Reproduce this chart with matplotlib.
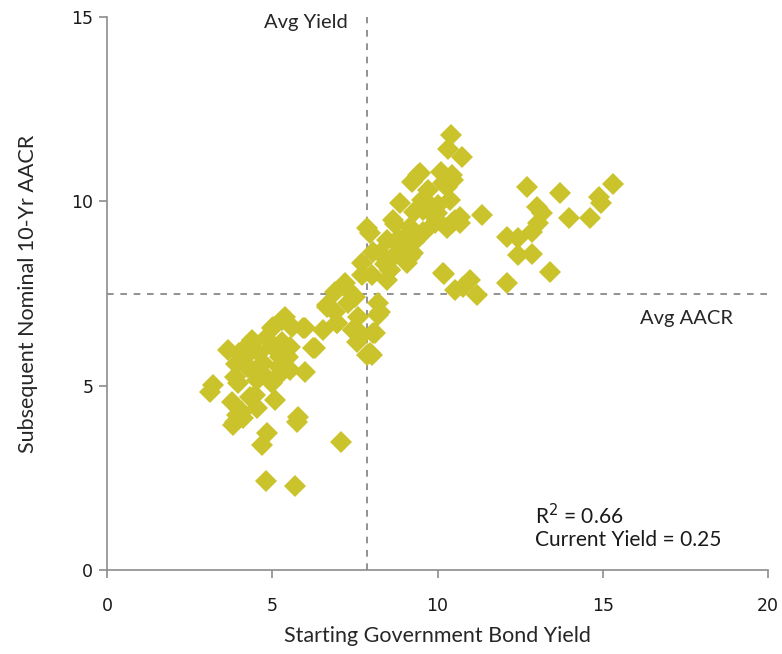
import matplotlib
matplotlib.use("Agg")
import matplotlib.pyplot as plt

# starting government bond yield (x) vs subsequent nominal 10-yr AACR (y)
yields = [
    3.21, 3.12, 3.66, 3.78, 3.87, 3.81, 3.93, 4.11, 3.87, 3.96, 4.24, 4.33, 4.39, 4.18,
    4.33, 4.72, 4.54, 4.54, 5.08, 5.14, 4.99, 4.48, 4.69, 4.84, 4.81, 5.69, 5.75, 5.78,
    7.08, 4.08, 4.69,
    5.39, 5.30, 5.02, 4.99, 5.93, 6.96, 6.66, 7.44, 6.23, 7.87, 5.02, 5.54, 5.23, 5.48,
    5.54, 5.99,
    7.96, 8.77, 8.87, 8.26, 7.72, 8.56, 8.02, 8.47, 7.20, 6.90, 7.50, 7.29, 8.20, 6.66,
    8.26, 7.59, 6.96, 6.54, 5.99, 7.44, 7.66, 8.11, 6.29, 8.02, 7.56,
    7.87, 8.05, 8.87, 9.17, 9.56, 8.87, 9.98, 10.44, 10.68, 8.20, 8.05, 7.96, 7.56,
    10.41, 10.32, 10.74, 9.47, 9.23, 10.44, 10.17, 9.53, 9.56, 9.86, 9.92, 10.38, 10.53,
    10.68, 11.35, 8.65, 9.17, 9.56, 8.47, 8.87, 9.26, 8.56, 9.08, 10.17, 10.98, 8.56,
    9.41, 9.62, 10.29, 10.47, 9.98, 10.29,
    12.71, 13.71, 15.31, 14.89, 14.95, 14.61, 13.98, 13.01, 13.16, 13.04, 12.86, 12.10,
    12.44, 12.44, 12.86, 13.40, 12.10, 10.20, 10.53, 10.77, 11.20,
    4.00, 4.40, 5.30, 5.60, 4.80, 3.90, 4.60, 5.20,
    6.90, 7.30, 7.70, 8.40, 9.00, 9.30, 9.70, 10.00, 9.30, 8.70, 10.10,
]
aacr = [
    5.02, 4.83, 5.97, 4.56, 4.01, 3.93, 4.20, 4.12, 5.23, 5.07, 5.51, 4.69, 6.24, 5.78,
    6.16, 5.61, 5.15, 4.39, 4.61, 5.23, 5.07, 4.75, 3.39, 3.72, 2.41, 2.28, 4.01, 4.15,
    3.47, 4.29, 5.34,
    6.86, 6.78, 6.59, 6.56, 6.56, 6.70, 7.13, 6.51, 6.02, 5.83, 6.05, 6.05, 5.78, 5.78,
    5.42, 5.37,
    9.14, 8.95, 8.68, 8.60, 8.33, 8.14, 8.00, 7.87, 7.78, 7.54, 7.40, 7.24, 7.24, 7.19,
    7.00, 6.86, 6.70, 6.51, 6.56, 6.51, 6.32, 6.43, 6.02, 5.83, 6.18,
    9.28, 8.62, 8.95, 8.49, 9.14, 9.95, 9.68, 9.41, 9.57, 6.92, 6.43, 5.89, 6.51,
    11.80, 11.42, 11.20, 10.77, 10.52, 10.71, 10.50, 10.04, 9.76, 9.63, 9.41, 10.04, 9.49,
    9.41, 9.63, 9.49, 9.30, 9.17, 8.95, 8.76, 8.60, 8.41, 8.33, 8.06, 7.87, 8.14,
    10.71, 10.04, 10.39, 10.58, 9.49, 9.28,
    10.39, 10.23, 10.47, 10.12, 9.95, 9.55, 9.55, 9.85, 9.68, 9.41, 9.17, 9.03,
    9.00, 8.54, 8.57, 8.08, 7.78, 8.03, 7.59, 7.68, 7.46,
    5.90, 5.40, 6.20, 6.60, 6.30, 5.60, 5.90, 5.50,
    7.00, 7.60, 8.00, 8.30, 9.00, 9.70, 10.30, 9.90, 8.90, 9.40, 10.80,
]

avg_yield = 7.87
avg_aacr = 7.49
r2 = 0.66
current_yield = 0.25

xticks = [0, 5, 10, 15, 20]
yticks = [0, 5, 10, 15]

# 字体
label_font = "Lato"
dot_color = "#CAC32B"
axis_color = "#8C8C8C"

fig = plt.figure(figsize=(7.82, 6.54), dpi=100)
ax = fig.add_axes([0.137, 0.128, 0.845, 0.846])

ax.plot(yields, aacr, linestyle="none", marker="D", markersize=11,
        color=dot_color, markeredgewidth=0, zorder=3)

# 平均线
ax.axvline(avg_yield, color="#7F7F7F", linestyle=(0, (4, 4)), linewidth=1.2, zorder=2)
ax.axhline(avg_aacr, color="#7F7F7F", linestyle=(0, (4, 4)), linewidth=1.2, zorder=2)

ax.text(avg_yield - 0.6, 14.86, "Avg Yield", ha="right", va="center",
        fontsize=14.5, family=label_font, color="#262626")
ax.text(18.94, 6.83, "Avg AACR", ha="right", va="center",
        fontsize=14.5, family=label_font, color="#262626")
ax.text(12.95, 1.49, "R$^2$ = %.2f" % r2, ha="left", va="center",
        fontsize=15, family=label_font, color="#1a1a1a")
ax.text(12.95, 0.81, "Current Yield = %.2f" % current_yield, ha="left", va="center",
        fontsize=15, family=label_font, color="#1a1a1a")

ax.set_xlim(0, 20)
ax.set_ylim(0, 15)
ax.set_xticks(xticks)
ax.set_yticks(yticks)
ax.tick_params(axis="both", direction="out", length=6, color=axis_color,
               labelsize=12.5, labelcolor="#1a1a1a", width=1.2)
ax.tick_params(axis="x", pad=13)
ax.tick_params(axis="y", pad=4)

for s in ["top", "right"]:
    ax.spines[s].set_visible(False)
for s in ["left", "bottom"]:
    ax.spines[s].set_color(axis_color)
    ax.spines[s].set_linewidth(1.2)

ax.set_xlabel("Starting Government Bond Yield", fontsize=15.5, family=label_font,
              color="#262626", labelpad=8)
ax.set_ylabel("Subsequent Nominal 10-Yr AACR", fontsize=15.5, family=label_font,
              color="#262626", labelpad=24)

fig.savefig("out.png", dpi=100)
